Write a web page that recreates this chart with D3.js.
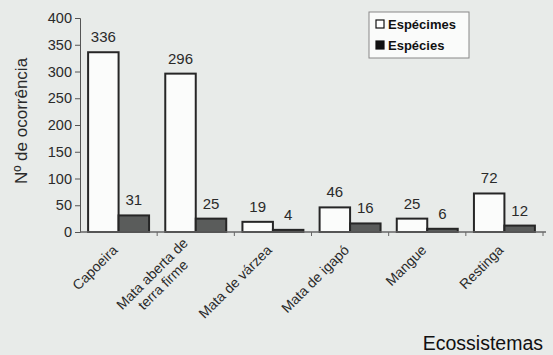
<!DOCTYPE html>
<html>
<head>
<meta charset="utf-8">
<script src="https://cdn.jsdelivr.net/npm/d3@7"></script>
<style>
  body { margin: 0; background: #e8ebe9; }
  svg { display: block; font-family: "Liberation Sans", Arial, sans-serif; }
</style>
</head>
<body>
<svg class="chart"></svg>
<script>
// Data
var categories = ['Capoeira', 'Mata aberta de|terra firme', 'Mata de várzea', 'Mata de igapó', 'Mangue', 'Restinga'];
var especimes = [336, 296, 19, 46, 25, 72];
var especies = [31, 25, 4, 16, 6, 12];
var seriesNames = ['Espécimes', 'Espécies'];
var yTicks = [0, 50, 100, 150, 200, 250, 300, 350, 400];

var W = 553, H = 355;
var margin = {top: 18, right: 10, bottom: 123, left: 80};
var width = 543 - margin.left;
var height = 232 - margin.top;

var svg = d3.select('.chart').attr('width', W).attr('height', H);

var g = svg.append('g')
  .attr('transform', 'translate(' + margin.left + ',' + margin.top + ')');

var x = d3.scaleBand()
  .domain(categories)
  .range([0, width])
  .paddingInner(0.21)
  .paddingOuter(0.105);

var x1 = d3.scaleBand()
  .domain(seriesNames)
  .range([0, x.bandwidth()]);

var y = d3.scaleLinear()
  .domain([0, 400])
  .range([height, 0]);

var rows = categories.map(function (c, i) {
  return {cat: c, values: [especimes[i], especies[i]]};
});

// Bars
var groups = g.selectAll('.grp')
  .data(rows)
  .enter()
  .append('g')
  .attr('transform', function (d) { return 'translate(' + x(d.cat) + ',0)'; });

groups.selectAll('rect')
  .data(function (d) { return d.values.map(function (v, j) { return {s: seriesNames[j], v: v}; }); })
  .enter()
  .append('rect')
  .attr('x', function (d) { return x1(d.s); })
  .attr('y', function (d) { return y(d.v); })
  .attr('width', x1.bandwidth())
  .attr('height', function (d) { return height - y(d.v); })
  .attr('fill', function (d) { return d.s === 'Espécimes' ? '#fbfcfb' : '#5a5c5b'; })
  .attr('stroke', '#262626')
  .attr('stroke-width', 2);

groups.selectAll('.val')
  .data(function (d) { return d.values.map(function (v, j) { return {s: seriesNames[j], v: v}; }); })
  .enter()
  .append('text')
  .attr('x', function (d) { return x1(d.s) + x1.bandwidth() / 2; })
  .attr('y', function (d) { return y(d.v) - 10; })
  .attr('text-anchor', 'middle')
  .attr('font-size', 15)
  .attr('fill', '#2a2a2a')
  .text(function (d) { return d.v; });

// Y axis
var yAxis = g.append('g')
  .call(d3.axisLeft(y).tickValues(yTicks).tickSize(5).tickPadding(3));
yAxis.selectAll('text').attr('font-size', 14.5).attr('fill', '#2a2a2a');
yAxis.selectAll('line, path').attr('stroke', '#555');

// X axis
var xAxis = g.append('g')
  .attr('transform', 'translate(0,' + height + ')');
xAxis.append('line')
  .attr('x1', 0).attr('x2', width + 3)
  .attr('stroke', '#666').attr('stroke-width', 1.5);
var step = x.step();
xAxis.selectAll('.tk')
  .data(categories)
  .enter()
  .append('line')
  .attr('x1', function (d) { return x(d) + x.bandwidth() + (step - x.bandwidth()) / 2; })
  .attr('x2', function (d) { return x(d) + x.bandwidth() + (step - x.bandwidth()) / 2; })
  .attr('y1', 0).attr('y2', 4)
  .attr('stroke', '#666');

var lbl = xAxis.selectAll('.lbl')
  .data(categories)
  .enter()
  .append('text')
  .attr('transform', function (d) {
    return 'translate(' + (x(d) + x.bandwidth() / 2 - 7) + ',12) rotate(-45)';
  })
  .attr('text-anchor', 'end')
  .attr('font-size', 14)
  .attr('fill', '#2a2a2a');
lbl.each(function (d) {
  var parts = d.split('|');
  var t = d3.select(this);
  var spans = parts.map(function (p, k) {
    return t.append('tspan')
      .attr('x', 0)
      .attr('dy', k === 0 ? (parts.length > 1 ? '0em' : '0.7em') : '1.1em')
      .text(p);
  });
  // center following lines under the first one
  if (spans.length > 1) {
    var w0 = spans[0].node().getComputedTextLength();
    spans.slice(1).forEach(function (s) {
      var w = s.node().getComputedTextLength();
      s.attr('x', -(w0 - w) / 2);
    });
  }
});

// Axis titles
svg.append('text')
  .attr('transform', 'translate(27,121) rotate(-90)')
  .attr('text-anchor', 'middle')
  .attr('font-size', 17)
  .attr('fill', '#2a2a2a')
  .text('Nº de ocorrência');

svg.append('text')
  .attr('x', 543)
  .attr('y', 350)
  .attr('text-anchor', 'end')
  .attr('font-size', 19.5)
  .attr('fill', '#111')
  .text('Ecossistemas');

// Legend
var legend = svg.append('g').attr('transform', 'translate(369,12)');
legend.append('rect')
  .attr('width', 100).attr('height', 46)
  .attr('fill', '#fafbfa')
  .attr('stroke', '#888').attr('stroke-width', 1);
seriesNames.forEach(function (s, i) {
  legend.append('rect')
    .attr('x', 7).attr('y', 8 + i * 21)
    .attr('width', 8).attr('height', 8)
    .attr('fill', i === 0 ? '#fff' : '#111')
    .attr('stroke', '#111').attr('stroke-width', 1.2);
  legend.append('text')
    .attr('x', 19).attr('y', 17 + i * 21)
    .attr('font-size', 13)
    .attr('font-weight', 'bold')
    .attr('fill', '#111')
    .text(s);
});
</script>
</body>
</html>
